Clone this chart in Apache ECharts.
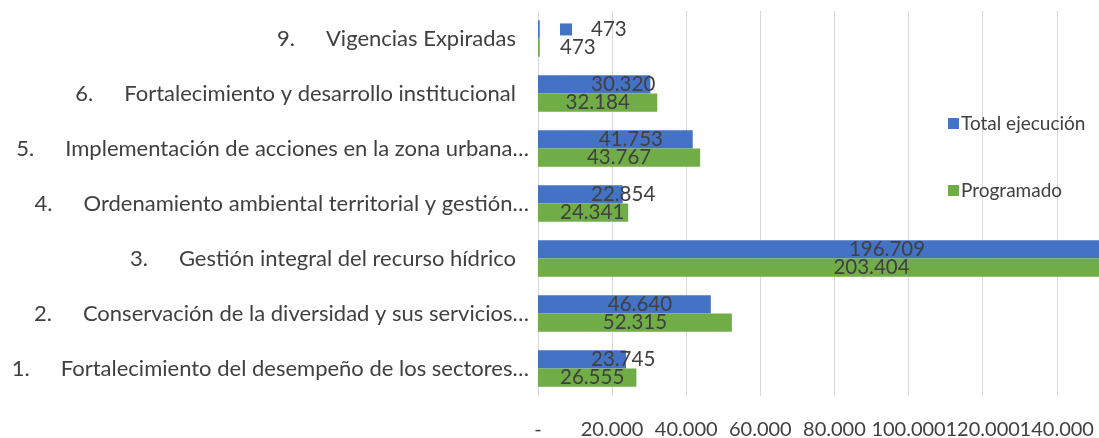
<!DOCTYPE html>
<html>
<head>
<meta charset="utf-8">
<script src="https://cdn.jsdelivr.net/npm/echarts@6/dist/echarts.min.js"></script>
<style>
html,body{margin:0;padding:0;background:#fff;}
#container{width:1099px;height:438px;}
</style>
</head>
<body>
<div id="container"></div>
<script>
// categories bottom -> top
var categories = [
	'1. Fortalecimiento del desempeño de los sectores…',
	'2. Conservación de la diversidad y sus servicios…',
	'3. Gestión integral del recurso hídrico',
	'4. Ordenamiento ambiental territorial y gestión…',
	'5. Implementación de acciones en la zona urbana…',
	'6. Fortalecimiento y desarrollo institucional',
	'9. Vigencias Expiradas'
];
var totalEjecucion = [23745, 46640, 196709, 22854, 41753, 30320, 473];
var programado = [26555, 52315, 203404, 24341, 43767, 32184, 473];
var xTicks = [0, 20000, 40000, 60000, 80000, 100000, 120000, 140000, 160000, 180000];

var FONT = 'Lato';
var TXT = '#404040';

function fmt(v){
	if(v == 0) return '-';
	return String(Math.round(v)).replace(/\B(?=(\d{3})+(?!\d))/g, '.');
}

// labels are centred on the bar but never start closer than 22px to the axis
function keepOffAxis(params){
	var minX = params.rect.x + 22;
	var dx = minX - params.labelRect.x;
	return dx > 0 ? {dx: dx} : {};
}

var myChart = echarts.init(document.getElementById('container'));

myChart.setOption({
	backgroundColor: '#FFFFFF',
	animation: false,
	textStyle: {fontFamily: FONT},
	legend: {
		orient: 'vertical',
		left: 943,
		top: 109,
		itemGap: 48,
		itemWidth: 11,
		itemHeight: 11,
		icon: 'rect',
		data: ['Total ejecución', 'Programado'],
		textStyle: {color: TXT, fontSize: 19, fontFamily: FONT, padding: [0,0,0,-3]}
	},
	grid: {
		left: 538,
		top: 11,
		bottom: 42,
		right: -106,
		outerBoundsMode: 'none',
		containLabel: false
	},
	xAxis: {
		type: 'value',
		min: xTicks[0],
		max: xTicks[xTicks.length-1],
		interval: xTicks[1] - xTicks[0],
		axisLine: {show: false},
		axisTick: {show: false},
		splitLine: {lineStyle: {color: '#D9D9D9', width: 1}},
		axisLabel: {
			color: TXT, fontSize: 20, fontFamily: FONT, margin: 24,
			formatter: function(v){ return v > 150000 ? '' : fmt(v); }
		}
	},
	yAxis: {
		type: 'category',
		data: categories,
		axisLine: {show: true, lineStyle: {color: '#D9D9D9'}},
		axisTick: {show: false},
		axisLabel: {
			margin: 9,
			color: TXT,
			fontSize: 22,
			fontFamily: FONT,
			formatter: function(v){
				var i = v.indexOf('. ');
				var s = '{n|' + v.substring(0, i+1) + '}{t|' + v.substring(i+2) + '}';
				// truncated names hang their ellipsis past the others
				if(v.charAt(v.length-1) != '…') s += '{p|}';
				return s;
			},
			rich: {
				n: {color: TXT, fontSize: 22, fontFamily: FONT, padding: [0, 31, 0, 0]},
				t: {color: TXT, fontSize: 22, fontFamily: FONT},
				p: {width: 13}
			}
		}
	},
	series: [
		{
			name: 'Total ejecución',
			type: 'bar',
			data: totalEjecucion,
			barGap: '0%',
			barCategoryGap: '34%',
			itemStyle: {color: '#4472C4'},
			label: {
				show: true,
				position: 'inside',
				formatter: function(p){ return '{k|}{v|' + fmt(p.value) + '}'; },
				rich: {
					k: {width: 12, height: 12, backgroundColor: '#4472C4'},
					v: {color: TXT, fontSize: 20.5, fontFamily: FONT, padding: [0, 0, 0, 19]}
				}
			},
			labelLayout: keepOffAxis
		},
		{
			name: 'Programado',
			type: 'bar',
			data: programado,
			barGap: '0%',
			barCategoryGap: '34%',
			itemStyle: {color: '#70AD47'},
			label: {
				show: true,
				position: 'inside',
				color: TXT,
				fontSize: 20.5,
				fontFamily: FONT,
				formatter: function(p){ return fmt(p.value); }
			},
			labelLayout: keepOffAxis
		}
	]
});
</script>
</body>
</html>
